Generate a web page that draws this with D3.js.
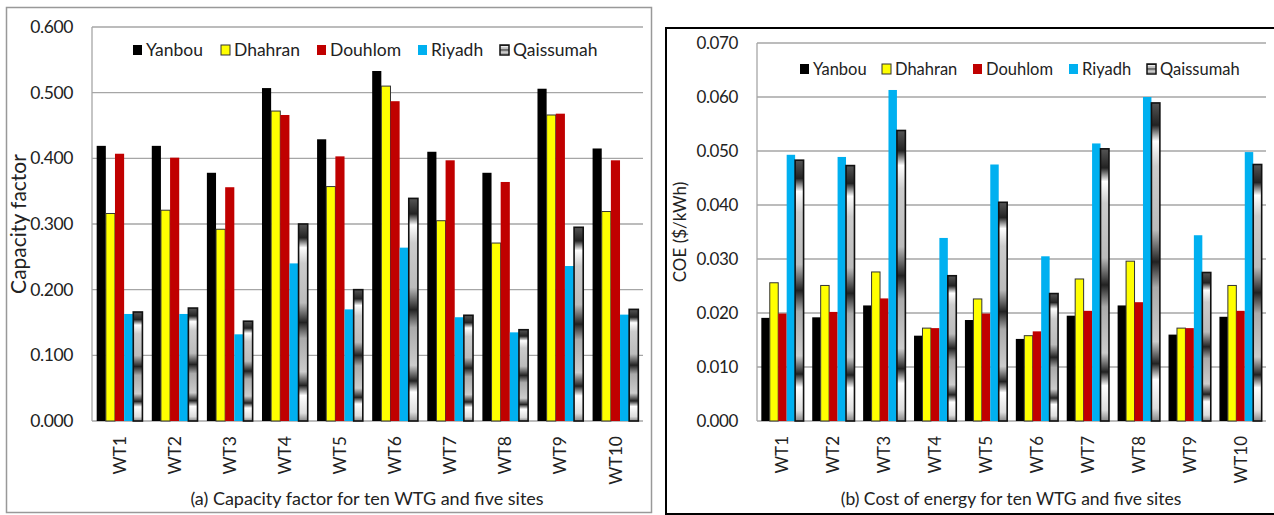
<!DOCTYPE html>
<html>
<head>
<meta charset="utf-8">
<script src="https://cdn.jsdelivr.net/npm/d3@7"></script>
<style>
  body { margin: 0; background: #fff; }
  text { font-family: Lato, "Open Sans", sans-serif; fill: #222; }
</style>
</head>
<body>
<div id="chart"></div>
<script>
const categories = ['WT1', 'WT2', 'WT3', 'WT4', 'WT5', 'WT6', 'WT7', 'WT8', 'WT9', 'WT10'];
const sites = ['Yanbou', 'Dhahran', 'Douhlom', 'Riyadh', 'Qaissumah'];

// capacity factor (panel a)
const cfYanbou    = [0.419, 0.419, 0.378, 0.507, 0.429, 0.533, 0.410, 0.378, 0.506, 0.415];
const cfDhahran   = [0.316, 0.321, 0.292, 0.472, 0.357, 0.510, 0.305, 0.271, 0.466, 0.319];
const cfDouhlom   = [0.407, 0.401, 0.356, 0.466, 0.403, 0.487, 0.397, 0.364, 0.468, 0.397];
const cfRiyadh    = [0.163, 0.163, 0.132, 0.240, 0.170, 0.264, 0.158, 0.135, 0.236, 0.162];
const cfQaissumah = [0.166, 0.172, 0.152, 0.300, 0.200, 0.339, 0.161, 0.139, 0.295, 0.170];

// cost of energy (panel b)
const coeYanbou    = [0.0191, 0.0192, 0.0214, 0.0158, 0.0187, 0.0152, 0.0195, 0.0214, 0.0160, 0.0193];
const coeDhahran   = [0.0256, 0.0251, 0.0276, 0.0172, 0.0226, 0.0158, 0.0263, 0.0296, 0.0172, 0.0251];
const coeDouhlom   = [0.0199, 0.0202, 0.0227, 0.0172, 0.0199, 0.0166, 0.0204, 0.0220, 0.0172, 0.0204];
const coeRiyadh    = [0.0493, 0.0489, 0.0613, 0.0339, 0.0475, 0.0305, 0.0514, 0.0600, 0.0344, 0.0498];
const coeQaissumah = [0.0483, 0.0473, 0.0538, 0.0269, 0.0405, 0.0236, 0.0504, 0.0589, 0.0275, 0.0475];

const cfTicks = [0, 0.1, 0.2, 0.3, 0.4, 0.5, 0.6];
const coeTicks = [0, 0.01, 0.02, 0.03, 0.04, 0.05, 0.06, 0.07];

const colors = ['#000000', '#FFFF00', '#C00000', '#00B0F0', 'url(#chrome)'];
const strokes = ['none', '#333', 'none', 'none', '#111'];

const svg = d3.select('#chart').append('svg')
    .attr('width', 1274)
    .attr('height', 515);

// the metallic fill used for Qaissumah
const grad = svg.append('defs').append('linearGradient')
    .attr('id', 'chrome')
    .attr('x1', 0).attr('y1', 0).attr('x2', 0).attr('y2', 1);
[[0, '#555'], [0.07, '#222'], [0.12, '#fff'], [0.2, '#ccc'], [0.4, '#bbb'], [0.5, '#222'],
 [0.58, '#aaa'], [0.75, '#ccc'], [0.82, '#222'], [0.87, '#fff'], [0.96, '#ddd'], [1, '#888']]
    .forEach(s => grad.append('stop').attr('offset', s[0]).attr('stop-color', s[1]));

// panel frames
svg.append('rect')
    .attr('x', 6.5).attr('y', 7.5).attr('width', 645).attr('height', 505)
    .attr('fill', 'none').attr('stroke', '#999').attr('stroke-width', 1.5);
svg.append('rect')
    .attr('x', 666).attr('y', 28).attr('width', 620).attr('height', 486)
    .attr('fill', 'none').attr('stroke', '#000').attr('stroke-width', 2);

function drawPanel(p) {
    const g = svg.append('g');
    const y = d3.scaleLinear().domain(p.domain).range([p.bottom, p.top]);
    const x = d3.scaleBand().domain(categories).range([p.left, p.right])
        .paddingInner(0.17).paddingOuter(0.085);
    const xs = d3.scaleBand().domain(sites).range([0, x.bandwidth()]);

    // gridlines
    g.selectAll('.grid').data(p.ticks).enter().append('line')
        .attr('x1', p.left).attr('x2', p.right)
        .attr('y1', d => y(d)).attr('y2', d => y(d))
        .attr('stroke', '#a6a6a6').attr('stroke-width', 1.3);
    g.append('line')
        .attr('x1', p.left).attr('x2', p.left)
        .attr('y1', p.top).attr('y2', p.bottom)
        .attr('stroke', '#a6a6a6').attr('stroke-width', 1.3);

    // y axis labels
    g.selectAll('.ytick').data(p.ticks).enter().append('text')
        .attr('x', p.left - 19)
        .attr('y', d => y(d))
        .attr('dy', '0.35em')
        .attr('text-anchor', 'end')
        .style('font-size', p.tickSize + 'px')
        .style('letter-spacing', '-0.4px')
        .text(d => d3.format('.3f')(d));

    g.append('text')
        .attr('transform', `translate(${p.titleX},${(p.top + p.bottom) / 2}) rotate(-90)`)
        .attr('text-anchor', 'middle')
        .style('font-size', p.titleSize + 'px')
        .text(p.title);

    // bars
    p.series.forEach((vals, i) => {
        g.selectAll('.b' + i).data(vals).enter().append('rect')
            .attr('x', (d, k) => x(categories[k]) + xs(sites[i]))
            .attr('y', d => y(d))
            .attr('width', xs.bandwidth())
            .attr('height', d => p.bottom - y(d))
            .attr('fill', colors[i])
            .attr('stroke', strokes[i])
            .attr('stroke-width', i == 4 ? 1.6 : 1);
    });

    // category labels
    g.selectAll('.xl').data(categories).enter().append('text')
        .attr('transform', d => `translate(${x(d) + x.bandwidth() / 2},${p.bottom + 15}) rotate(-90)`)
        .attr('dy', '0.35em')
        .attr('text-anchor', 'end')
        .style('font-size', p.tickSize + 'px')
        .text(d => d);

    // legend
    sites.forEach((s, i) => {
        g.append('rect')
            .attr('x', p.legendX[i]).attr('y', p.legendY - 5)
            .attr('width', 9).attr('height', 10)
            .attr('fill', colors[i])
            .attr('stroke', strokes[i])
            .attr('stroke-width', i == 4 ? 1.5 : 1);
        g.append('text')
            .attr('x', p.legendX[i] + 13).attr('y', p.legendY)
            .attr('dy', '0.35em')
            .style('font-size', p.legendSize + 'px')
            .text(s);
    });

    g.append('text')
        .attr('x', p.captionX).attr('y', 505)
        .attr('text-anchor', 'middle')
        .style('font-size', p.captionSize + 'px')
        .text(p.caption);
}

drawPanel({
    left: 92, right: 643, top: 27, bottom: 421,
    domain: [0, 0.6], ticks: cfTicks,
    series: [cfYanbou, cfDhahran, cfDouhlom, cfRiyadh, cfQaissumah],
    title: 'Capacity factor', titleX: 26, titleSize: 21, tickSize: 17.5,
    legendX: [133, 221, 317, 418, 500], legendY: 50, legendSize: 17.5,
    caption: '(a) Capacity factor for ten WTG and five sites', captionX: 367, captionSize: 18
});

drawPanel({
    left: 757, right: 1266, top: 43, bottom: 421,
    domain: [0, 0.07], ticks: coeTicks,
    series: [coeYanbou, coeDhahran, coeDouhlom, coeRiyadh, coeQaissumah],
    title: 'COE ($/kWh)', titleX: 686, titleSize: 17, tickSize: 17,
    legendX: [800, 882, 973, 1069, 1147], legendY: 69, legendSize: 16.5,
    caption: '(b) Cost of energy for ten WTG and five sites', captionX: 1011, captionSize: 17.5
});
</script>
</body>
</html>
